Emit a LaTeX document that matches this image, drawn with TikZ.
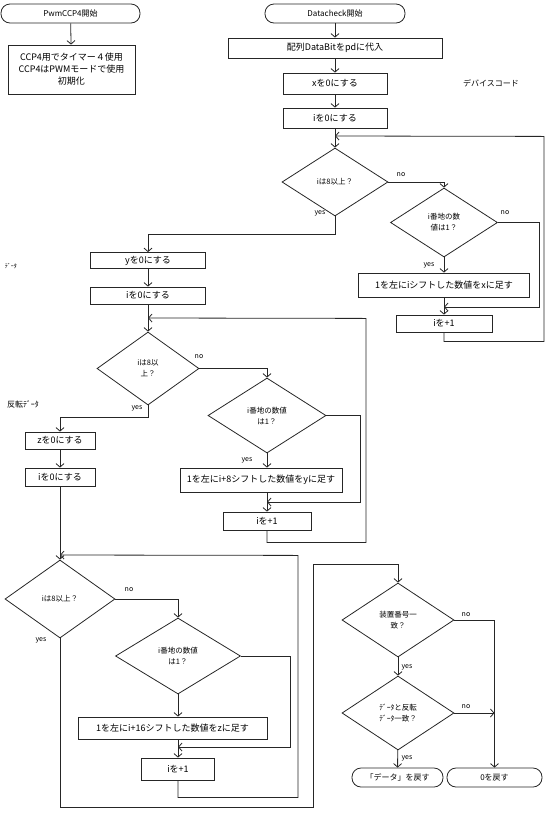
\documentclass[tikz,border=0pt]{standalone}
\usepackage{fontspec}
\setmainfont{Noto Sans CJK JP}
\usetikzlibrary{arrows.meta,positioning,shapes.geometric,calc}
\colorlet{ln}{black!85}

\begin{document}
\begin{tikzpicture}[
  x=1pt, y=-1pt,
  line width=0.8pt,
  term/.style={draw=ln, rounded corners=9pt, minimum height=19pt, inner sep=1pt, font=\fontsize{8}{10}\selectfont},
  proc/.style={draw=ln, align=center, inner sep=1pt, font=\fontsize{9}{12}\selectfont},
  dec/.style={draw=ln, diamond, aspect=1.5, inner sep=0pt, align=center, font=\fontsize{7.5}{11}\selectfont},
  yn/.style={font=\fontsize{7}{8}\selectfont, inner sep=0pt},
  note/.style={font=\fontsize{8}{10}\selectfont, inner sep=0pt},
  arr/.style={-{Straight Barb[length=3.5pt,width=8pt]}, draw=ln}
]
  \useasboundingbox (0,0) rectangle (550,820);

  % PwmCCP4
  \node[term, minimum width=139pt] (pwmStart) at (70.5,13.5) {PwmCCP4開始};
  \node[proc, minimum width=127pt, minimum height=49pt] (pwmInit) at (71.5,69.5) {CCP4用でタイマー４使用\\CCP4はPWMモードで使用\\初期化};

  % Datacheck
  \node[term, minimum width=140pt] (dcStart) at (335,13.5) {Datacheck開始};
  \node[proc, minimum width=214pt, minimum height=20pt] (setPd) at (335,48) {配列DataBitをpdに代入};
  \node[proc, minimum width=104pt, minimum height=21pt] (setX) at (335,83.5) {xを0にする};
  \node[proc, minimum width=104pt, minimum height=20pt] (setI1) at (335,118) {iを0にする};
  \node[dec, minimum width=106pt, minimum height=68pt] (chk1) at (335,182) {iは8以上？};
  \node[dec, minimum width=107pt, minimum height=69pt] (bit1) at (444,222.5) {i番地の数\\値は1？};
  \node[proc, minimum width=171pt, minimum height=24pt] (addX) at (444,285) {1を左にiシフトした数値をxに足す};
  \node[proc, minimum width=96pt, minimum height=17pt] (inc1) at (444,323.5) {iを+1};

  \node[proc, minimum width=115pt, minimum height=16pt] (setY) at (148,260.5) {yを0にする};
  \node[proc, minimum width=115pt, minimum height=17pt] (setI2) at (148,295.5) {iを0にする};
  \node[dec, minimum width=102pt, minimum height=73pt] (chk2) at (148,368.5) {iは8以\\上？};
  \node[dec, minimum width=118pt, minimum height=75pt] (bit2) at (267,415.5) {i番地の数値\\は1？};
  \node[proc, minimum width=162pt, minimum height=24pt] (addY) at (261,480) {1を左にi+8シフトした数値をyに足す};
  \node[proc, minimum width=88pt, minimum height=18pt] (inc2) at (267,521) {iを+1};

  \node[proc, minimum width=70pt, minimum height=17pt] (setZ) at (60,440.5) {zを0にする};
  \node[proc, minimum width=70pt, minimum height=18pt] (setI3) at (60,477) {iを0にする};
  \node[dec, minimum width=110pt, minimum height=78pt] (chk3) at (60,599) {iは8以上？};
  \node[dec, minimum width=125pt, minimum height=76pt] (bit3) at (178,656) {i番地の数値\\は1？};
  \node[proc, minimum width=189pt, minimum height=22pt] (addZ) at (172.5,728) {1を左にi+16シフトした数値をzに足す};
  \node[proc, minimum width=73pt, minimum height=22pt] (inc3) at (178,769) {iを+1};

  \node[dec, minimum width=112pt, minimum height=74pt] (same1) at (398,620) {装置番号一\\致？};
  \node[dec, minimum width=112pt, minimum height=74pt] (same2) at (398,713) {ﾃﾞｰﾀと反転\\ﾃﾞｰﾀ一致？};
  \node[term, minimum width=91pt] (retData) at (397.5,777.5) {「データ」を戻す};
  \node[term, minimum width=95pt] (retZero) at (494.5,777.5) {0を戻す};

  % side notes
  \node[note] (devCode) at (491,83) {デバイスコード};
  \node[note, font=\fontsize{6}{7}\selectfont] (dataLbl) at (11,266) {ﾃﾞｰﾀ};
  \node[note] (invLbl) at (23,404) {反転ﾃﾞｰﾀ};

  % yes / no
  \node[yn] (no1) at (401,175) {no};
  \node[yn] (yes1) at (320,213) {yes};
  \node[yn] (no2) at (505,213) {no};
  \node[yn] (yes2) at (429,265) {yes};
  \node[yn] (no3) at (199,357) {no};
  \node[yn] (yes3) at (137,408) {yes};
  \node[yn] (yes4) at (247,460) {yes};
  \node[yn] (no5) at (129,590) {no};
  \node[yn] (yes5) at (41,640) {yes};
  \node[yn] (no7) at (466,615) {no};
  \node[yn] (yes7) at (407,667) {yes};
  \node[yn] (no8) at (466,707) {no};
  \node[yn] (yes8) at (407,758) {yes};

  \coordinate (j1) at (335,136);
  \coordinate (j2) at (444,307);
  \coordinate (j3) at (148,318);
  \coordinate (j4) at (267,502);
  \coordinate (j5) at (60,555);
  \coordinate (j6) at (178,747);
  \coordinate (c1) at (313,807);
  \coordinate (c2) at (313,564);

  \draw[arr] (pwmStart) -- (pwmInit);

  \draw[arr] (dcStart) -- (setPd);
  \draw[arr] (setPd) -- (setX);
  \draw[arr] (setX) -- (setI1);
  \draw[arr] (setI1) -- (chk1);
  \draw[arr] (chk1.east) -| (bit1.north);
  \draw[arr] (bit1) -- (addX);
  \draw[arr] (addX) -- (inc1);
  \draw[arr] (bit1.east) -- ++(41,0) |- (j2);
  \draw[arr] (inc1.south) -- ++(0,9) -| ++(100,-205) -- (j1);
  \draw[arr] (chk1.south) -- ++(0,18) -| (setY.north);

  \draw[arr] (setY) -- (setI2);
  \draw[arr] (setI2) -- (chk2);
  \draw[arr] (chk2.east) -| (bit2.north);
  \draw[arr] (bit2.south) -- (bit2.south |- addY.north);
  \draw[arr] (inc2.north |- addY.south) -- (inc2.north);
  \draw[arr] (bit2.east) -- ++(34,0) |- (j4);
  \draw[arr] (inc2.south) -- ++(0,12) -| ++(99,-224) -- (j3);
  \draw[arr] (chk2.south) -- ++(0,12) -| (setZ.north);

  \draw[arr] (setZ) -- (setI3);
  \draw[arr] (setI3) -- (chk3);
  \draw[arr] (chk3.east) -| (bit3.north);
  \draw[arr] (bit3.south) -- (bit3.south |- addZ.north);
  \draw[arr] (inc3.north |- addZ.south) -- (inc3.north);
  \draw[arr] (bit3.east) -- ++(49,0) |- (j6);
  \draw[arr] (inc3.south) -- ++(0,17) -| ++(120,-242) -- (j5);
  \draw[arr] (chk3.south) |- (c1) -- (c2) -| (same1.north);

  \draw[arr] (same1) -- (same2);
  \draw[arr] (same1.east) -| (retZero.north);
  \draw[arr] (same2.east) -- (same2.east -| retZero.north);
  \draw[arr] (same2) -- (retData);
\end{tikzpicture}
\end{document}
